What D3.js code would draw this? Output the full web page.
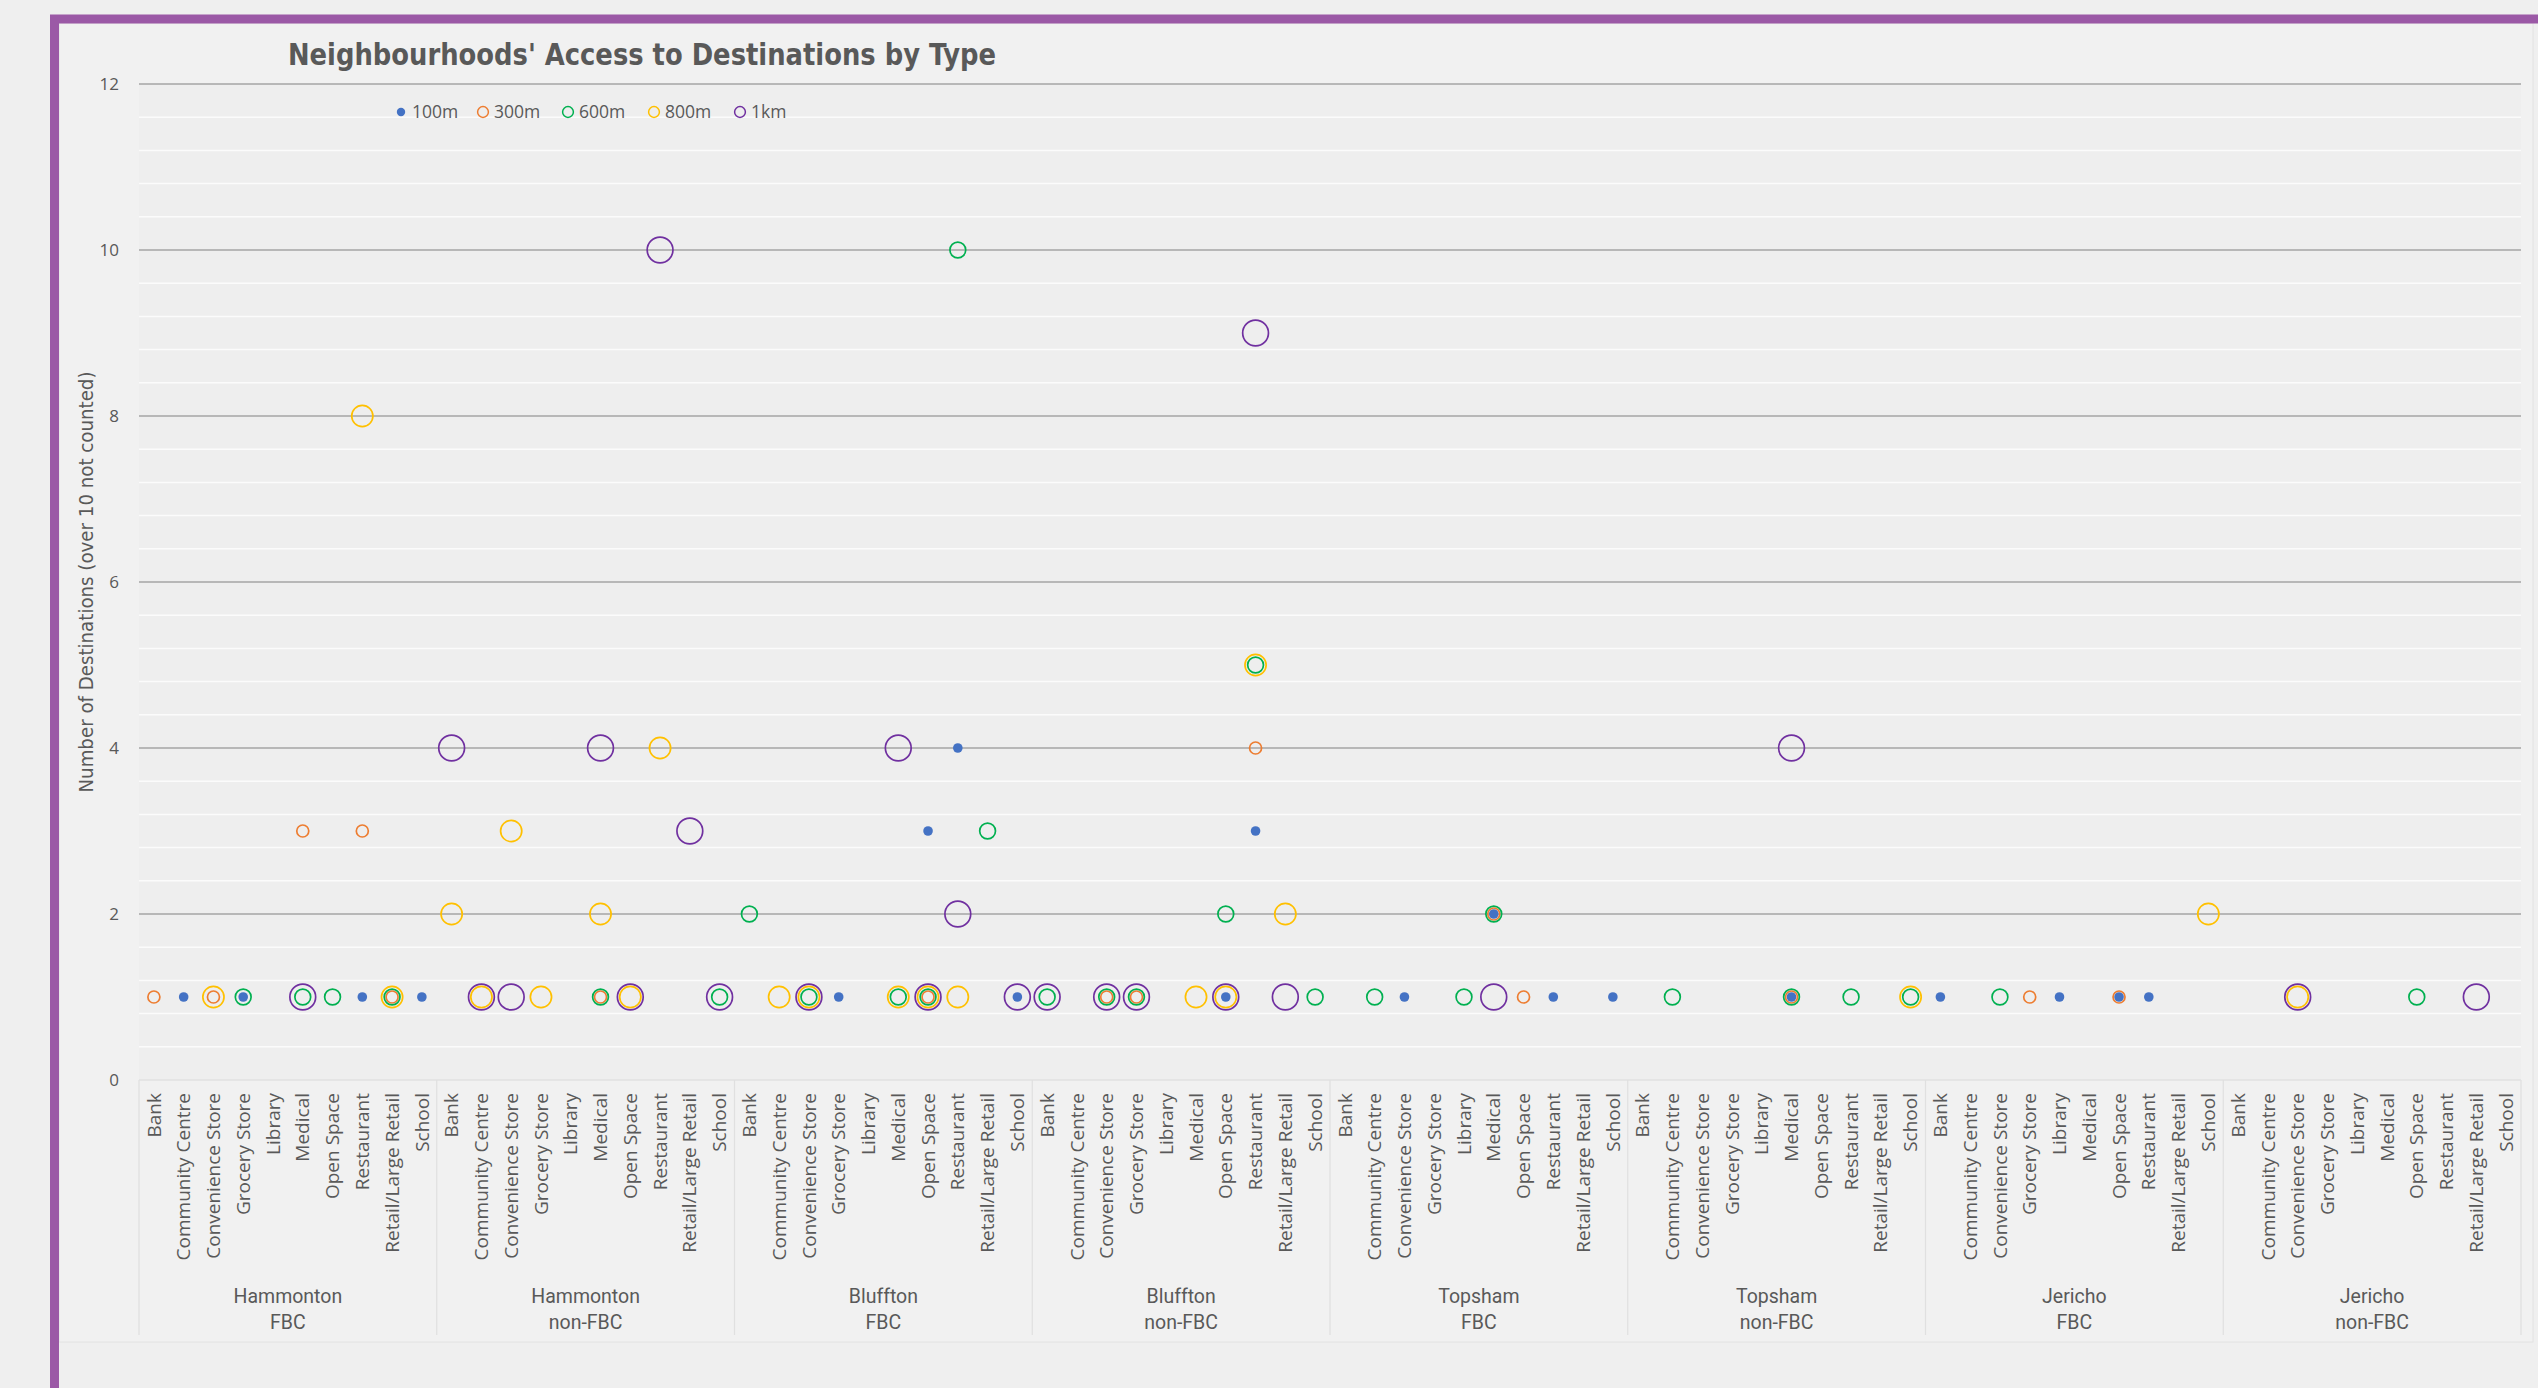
<!DOCTYPE html>
<html>
<head>
<meta charset="utf-8">
<script src="https://cdn.jsdelivr.net/npm/d3@7"></script>
<style>
  body { margin: 0; background: #efefef; }
  svg { display: block; }
</style>
</head>
<body>
<svg id="chart"></svg>
<script>
// categories and groups (x axis)
var categories = ["Bank", "Community Centre", "Convenience Store", "Grocery Store", "Library",
  "Medical", "Open Space", "Restaurant", "Retail/Large Retail", "School"];
var groups = [["Hammonton", "FBC"], ["Hammonton", "non-FBC"], ["Bluffton", "FBC"], ["Bluffton", "non-FBC"],
  ["Topsham", "FBC"], ["Topsham", "non-FBC"], ["Jericho", "FBC"], ["Jericho", "non-FBC"]];
var yTicks = [0, 2, 4, 6, 8, 10, 12];

// one row per group, in category order (null = nothing drawn)
var d100m = [
  null, 1, null, 1, null, null, null, 1, null, 1,
  null, null, null, null, null, null, null, null, null, null,
  null, null, null, 1, null, null, 3, 4, null, 1,
  null, null, null, null, null, null, 1, 3, null, null,
  null, null, 1, null, null, 2, null, 1, null, 1,
  null, null, null, null, null, 1, null, null, null, null,
  1, null, null, null, 1, null, 1, 1, null, null,
  null, null, null, null, null, null, null, null, null, null
];
var d300m = [
  1, null, 1, null, null, 3, null, 3, 1, null,
  null, null, null, null, null, 1, null, null, null, null,
  null, null, null, null, null, null, 1, null, null, null,
  null, null, 1, 1, null, null, null, 4, null, null,
  null, null, null, null, null, 2, 1, null, null, null,
  null, null, null, null, null, 1, null, null, null, null,
  null, null, null, 1, null, null, 1, null, null, null,
  null, null, null, null, null, null, null, null, null, null
];
var d600m = [
  null, null, null, 1, null, 1, 1, null, 1, null,
  null, null, null, null, null, 1, null, null, null, 1,
  2, null, 1, null, null, 1, 1, 10, 3, null,
  1, null, 1, 1, null, null, 2, 5, null, 1,
  null, 1, null, null, 1, 2, null, null, null, null,
  null, 1, null, null, null, 1, null, 1, null, 1,
  null, null, 1, null, null, null, null, null, null, null,
  null, null, null, null, null, null, 1, null, null, null
];
var d800m = [
  null, null, 1, null, null, null, null, 8, 1, null,
  2, 1, 3, 1, null, 2, 1, 4, null, null,
  null, 1, 1, null, null, 1, 1, 1, null, null,
  null, null, null, null, null, 1, 1, 5, 2, null,
  null, null, null, null, null, null, null, null, null, null,
  null, null, null, null, null, null, null, null, null, 1,
  null, null, null, null, null, null, null, null, null, 2,
  null, null, 1, null, null, null, null, null, null, null
];
var d1km = [
  null, null, null, null, null, 1, null, null, null, null,
  4, 1, 1, null, null, 4, 1, 10, 3, 1,
  null, null, 1, null, null, 4, 1, 2, null, 1,
  1, null, 1, 1, null, null, 1, 9, 1, null,
  null, null, null, null, null, 1, null, null, null, null,
  null, null, null, null, null, 4, null, null, null, null,
  null, null, null, null, null, null, null, null, null, null,
  null, null, 1, null, null, null, null, null, 1, null
];

var series = [
  { name: "100m", values: d100m, color: "#4472C4", r: 4.8, filled: true },
  { name: "300m", values: d300m, color: "#ED7D31", r: 6, filled: false },
  { name: "600m", values: d600m, color: "#00B050", r: 7.9, filled: false },
  { name: "800m", values: d800m, color: "#FFC000", r: 10.6, filled: false },
  { name: "1km", values: d1km, color: "#7030A0", r: 12.9, filled: false }
];

var W = 2538, H = 1388;
var plotLeft = 139, plotRight = 2521, plotTop = 84, plotBottom = 1080;
var textColor = "#595959";

var svg = d3.select("#chart").attr("width", W).attr("height", H);

// outer background + purple frame + chart area
svg.append("rect").attr("width", W).attr("height", H).attr("fill", "#efefef");
svg.append("rect")
  .attr("x", 59).attr("y", 23).attr("width", 2474).attr("height", 1319)
  .attr("fill", "#f1f1f1").attr("stroke", "#e2e2e2").attr("stroke-width", 1);
svg.append("rect")
  .attr("x", 54.5).attr("y", 19).attr("width", 2488).attr("height", 1378)
  .attr("fill", "none").attr("stroke", "#9B59A6").attr("stroke-width", 9);

var keys = [];
groups.forEach(function(g, gi) {
  categories.forEach(function(c, ci) { keys.push(gi + "|" + ci); });
});

var x = d3.scaleBand().domain(keys).range([plotLeft, plotRight]);
var y = d3.scaleLinear().domain([0, 12]).range([plotBottom, plotTop]);

// plot background
svg.append("rect")
  .attr("x", plotLeft).attr("y", plotTop)
  .attr("width", plotRight - plotLeft).attr("height", plotBottom - plotTop)
  .attr("fill", "#eeeeee");

// minor gridlines (every 0.4)
var minor = d3.range(1, 30).filter(function(k) { return k % 5 != 0; }).map(function(k) { return k * 0.4; });
svg.append("g").selectAll("line")
  .data(minor)
  .enter()
  .append("line")
  .attr("x1", plotLeft).attr("x2", plotRight)
  .attr("y1", function(d) { return y(d); })
  .attr("y2", function(d) { return y(d); })
  .attr("stroke", "#fbfbfb").attr("stroke-width", 1.5);

// major gridlines
svg.append("g").selectAll("line")
  .data(yTicks.slice(1))
  .enter()
  .append("line")
  .attr("x1", plotLeft).attr("x2", plotRight)
  .attr("y1", function(d) { return y(d); })
  .attr("y2", function(d) { return y(d); })
  .attr("stroke", "#a5a5a5").attr("stroke-width", 1.7);

// y axis labels
var yAxis = svg.append("g")
  .attr("transform", "translate(" + plotLeft + ",0)")
  .call(d3.axisLeft(y).tickValues(yTicks).tickSize(0).tickPadding(20));
yAxis.select(".domain").remove();
yAxis.selectAll("text")
  .attr("fill", textColor)
  .style("font-family", "'Open Sans', sans-serif")
  .style("font-size", "17px");

// axis line + group separators in the label area
svg.append("line")
  .attr("x1", plotLeft).attr("x2", plotRight).attr("y1", plotBottom).attr("y2", plotBottom)
  .attr("stroke", "#dadada").attr("stroke-width", 1.2);
svg.append("g").selectAll("line")
  .data(d3.range(groups.length + 1))
  .enter()
  .append("line")
  .attr("x1", function(d) { return d < groups.length ? x(d + "|0") : plotRight; })
  .attr("x2", function(d) { return d < groups.length ? x(d + "|0") : plotRight; })
  .attr("y1", plotBottom).attr("y2", 1335)
  .attr("stroke", "#e0e0e0").attr("stroke-width", 1.2);

// category labels
var xAxis = svg.append("g")
  .attr("transform", "translate(0," + plotBottom + ")")
  .call(d3.axisBottom(x).tickSize(0).tickFormat(function(k) { return categories[+k.split("|")[1]]; }));
xAxis.select(".domain").remove();
xAxis.selectAll("text")
  .attr("transform", "rotate(-90)")
  .attr("x", -13).attr("y", 0).attr("dy", "0.35em")
  .attr("text-anchor", "end")
  .attr("fill", textColor)
  .style("font-family", "'Open Sans', sans-serif")
  .style("font-size", "19px");

// group labels
var groupLabels = svg.append("g").selectAll("text")
  .data(groups)
  .enter()
  .append("text")
  .attr("text-anchor", "middle")
  .attr("fill", textColor)
  .style("font-family", "Roboto, sans-serif")
  .style("font-size", "19.5px");
groupLabels.append("tspan")
  .attr("x", function(d, i) { return x(i + "|0") + x.bandwidth() * 5; })
  .attr("y", 1303)
  .text(function(d) { return d[0]; });
groupLabels.append("tspan")
  .attr("x", function(d, i) { return x(i + "|0") + x.bandwidth() * 5; })
  .attr("y", 1329)
  .text(function(d) { return d[1]; });

// markers
series.forEach(function(s) {
  var pts = s.values
    .map(function(v, i) { return { key: keys[i], v: v }; })
    .filter(function(d) { return d.v != null; });
  svg.append("g").selectAll("circle")
    .data(pts)
    .enter()
    .append("circle")
    .attr("cx", function(d) { return x(d.key) + x.bandwidth() / 2; })
    .attr("cy", function(d) { return y(d.v); })
    .attr("r", s.r)
    .attr("fill", s.filled ? s.color : "none")
    .attr("stroke", s.color)
    .attr("stroke-width", s.filled ? 0 : 1.7);
});

// legend
var legendX = [401, 483, 568, 654, 740];
var legend = svg.append("g").selectAll("g")
  .data(series)
  .enter()
  .append("g")
  .attr("transform", function(d, i) { return "translate(" + legendX[i] + ",112)"; });
legend.append("circle")
  .attr("r", function(d) { return d.filled ? 4.2 : 5.4; })
  .attr("fill", function(d) { return d.filled ? d.color : "none"; })
  .attr("stroke", function(d) { return d.color; })
  .attr("stroke-width", function(d) { return d.filled ? 0 : 1.5; });
legend.append("text")
  .attr("x", 11).attr("y", 6)
  .attr("fill", textColor)
  .style("font-family", "'Open Sans', sans-serif")
  .style("font-size", "17.5px")
  .text(function(d) { return d.name; });

// title
svg.append("text")
  .attr("x", 288).attr("y", 65)
  .attr("textLength", 708).attr("lengthAdjust", "spacingAndGlyphs")
  .attr("fill", textColor)
  .style("font-family", "'Liberation Sans Narrow', 'DejaVu Sans Condensed', sans-serif")
  .style("font-weight", "bold")
  .style("font-size", "31px")
  .text("Neighbourhoods' Access to Destinations by Type");

// y axis title
svg.append("text")
  .attr("transform", "translate(93," + ((plotTop + plotBottom) / 2) + ") rotate(-90)")
  .attr("text-anchor", "middle")
  .attr("textLength", 421).attr("lengthAdjust", "spacingAndGlyphs")
  .attr("fill", textColor)
  .style("font-family", "'Liberation Sans Narrow', 'DejaVu Sans Condensed', sans-serif")
  .style("font-size", "19px")
  .text("Number of Destinations (over 10 not counted)");
</script>
</body>
</html>
